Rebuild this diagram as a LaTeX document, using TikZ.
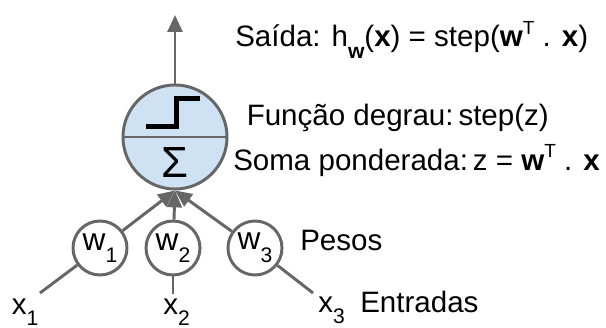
\documentclass[tikz,border=0pt]{standalone}
\usepackage{fontspec}
\setmainfont{Liberation Sans}
\usetikzlibrary{arrows.meta}

\definecolor{edgegray}{HTML}{666666}
\definecolor{cellblue}{HTML}{CFE2F3}
\newcommand{\lowsub}[1]{\raisebox{-0.4em}{\fontsize{15}{15}\selectfont #1}}
\newcommand{\highsup}[1]{\raisebox{0.42em}{\fontsize{13.5}{13.5}\selectfont #1}}

\begin{document}
\begin{tikzpicture}[x=0.025cm, y=-0.025cm]

\tikzstyle{arrow} = [draw=edgegray, line width=2.1pt, -{Triangle[length=12pt,width=10.5pt]}];
\tikzstyle{link} = [draw=edgegray, line width=2.1pt];
\tikzstyle{weight} = [draw=edgegray, circle, line width=2.1pt, minimum size=1.35cm, inner sep=0pt, fill=white, font=\fontsize{22.5}{24}\selectfont];
\tikzstyle{lbltext} = [anchor=base west, inner sep=0pt, font=\fontsize{21}{24}\selectfont];

\useasboundingbox (0,0) rectangle (606,328);

% neuron
\node(neuron) [circle, draw=edgegray, fill=cellblue, line width=2.1pt, minimum size=2.6cm] at (175,137) {};
\draw[edgegray, line width=2.1pt] (neuron.west) -- (neuron.east);
\draw[line width=3.2pt] (146,126.5) -- (176.5,126.5) -- (176.5,98.5) -- (200,98.5);
\node(sigma) at (175,163) {\fontsize{31}{31}\selectfont Σ};

\coordinate(out) at (175,15);
\draw [arrow] (neuron) -- (out);

% weights
\node(w1) [weight] at (100,248) {w\lowsub{1}};
\node(w2) [weight] at (173,248) {w\lowsub{2}};
\node(w3) [weight] at (255,248) {w\lowsub{3}};

\draw [arrow] (w1) -- (neuron.south);
\draw [arrow] (w2) -- (neuron.south);
\draw [arrow] (w3) -- (neuron.south);

% inputs
\node(x1) [lbltext] at (11.5,314) {x\lowsub{1}};
\node(x2) [lbltext] at (163,314) {x\lowsub{2}};
\node(x3) [lbltext] at (318,312) {x\lowsub{3}};

\coordinate(e1) at (40,293);
\coordinate(e2) at (173,294);
\coordinate(e3) at (313,293);

\draw [link] (e1) -- (w1);
\draw [link] (e2) -- (w2);
\draw [link] (e3) -- (w3);

% labels
\node(lblOut) [lbltext] at (235,47) {Saída: h\lowsub{\textbf{w}}(\textbf{x}) = step(\textbf{w}\highsup{T} . \textbf{x})};
\node(lblStep) [lbltext] at (246.5,126) {Função degrau:\,step(z)};
\node(lblSum) [lbltext] at (233,170) {Soma ponderada:\,z = \textbf{w}\highsup{T} . \textbf{x}};
\node(lblW) [lbltext] at (300,250) {Pesos};
\node(lblX) [lbltext] at (360,312) {Entradas};

\end{tikzpicture}
\end{document}
